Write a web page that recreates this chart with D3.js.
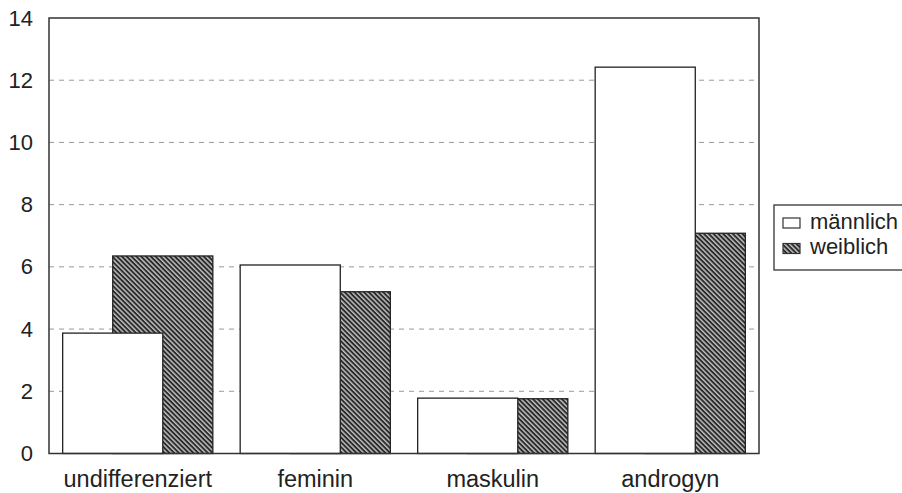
<!DOCTYPE html>
<html>
<head>
<meta charset="utf-8">
<script src="https://cdn.jsdelivr.net/npm/d3@7"></script>
<style>
  body { margin: 0; background: #fff; }
  svg { display: block; font-family: "Liberation Sans", Arial, sans-serif; }
</style>
</head>
<body>
<div id="chart"></div>
<script>
const categories = ["undifferenziert", "feminin", "maskulin", "androgyn"];
const seriesNames = ["männlich", "weiblich"];
const maennlich = [3.87, 6.06, 1.78, 12.42];
const weiblich = [6.35, 5.2, 1.76, 7.08];
const yTicks = [0, 2, 4, 6, 8, 10, 12, 14];

const width = 902, height = 493;
const margin = { top: 18, right: 143, bottom: 39.5, left: 49 };
const W = width - margin.left - margin.right;
const H = height - margin.top - margin.bottom;
const FONT = '"Liberation Sans", Arial, sans-serif';

const svg = d3.select('#chart').append('svg')
  .attr('width', width).attr('height', height);

// hatch pattern for "weiblich" (lines running top-left to bottom-right)
const defs = svg.append('defs');
const pat = defs.append('pattern')
  .attr('id', 'hatch').attr('patternUnits', 'userSpaceOnUse')
  .attr('width', 3.4).attr('height', 3.4)
  .attr('patternTransform', 'rotate(45)');
pat.append('rect').attr('width', 3.4).attr('height', 3.4).attr('fill', '#bdbdbd');
pat.append('rect').attr('width', 3.4).attr('height', 1.9).attr('fill', '#2a2a2a');

const g = svg.append('g').attr('transform', `translate(${margin.left},${margin.top})`);

const x0 = d3.scaleBand().domain(categories).range([0, W]).padding(0);
const barW = x0.bandwidth() * 0.564;
const groupW = barW * 1.5;
const offset = d3.scaleOrdinal().domain(seriesNames).range([0, barW / 2]);
const y = d3.scaleLinear().domain([0, 14]).range([H, 0]);

// dashed gridlines
g.selectAll('line.grid')
  .data(yTicks.filter(t => t > 0 && t < 14))
  .join('line').attr('class', 'grid')
  .attr('x1', 0).attr('x2', W)
  .attr('y1', d => y(d)).attr('y2', d => y(d))
  .attr('stroke', '#999').attr('stroke-width', 1)
  .attr('stroke-dasharray', '5,5');

// y axis labels
const yAxis = g.append('g')
  .call(d3.axisLeft(y).tickValues(yTicks).tickSize(0).tickPadding(16));
yAxis.select('.domain').remove();
yAxis.selectAll('text').attr('font-size', '22px').attr('fill', '#222')
  .attr('font-family', FONT);

// x axis labels
const xAxis = g.append('g').attr('transform', `translate(0,${H})`)
  .call(d3.axisBottom(x0).tickSize(0).tickPadding(16.5));
xAxis.select('.domain').remove();
xAxis.selectAll('text').attr('font-size', '23.5px').attr('fill', '#222')
  .attr('font-family', FONT);

const groups = g.selectAll('g.cat')
  .data(categories)
  .join('g').attr('class', 'cat')
  .attr('transform', d => `translate(${x0(d) + (x0.bandwidth() - groupW) / 2},0)`);

// weiblich behind, männlich on top (overlapping bars)
groups.append('rect')
  .attr('x', offset('weiblich'))
  .attr('y', (d, i) => y(weiblich[i]))
  .attr('width', barW)
  .attr('height', (d, i) => H - y(weiblich[i]))
  .attr('fill', 'url(#hatch)')
  .attr('stroke', '#222').attr('stroke-width', 1.3);

groups.append('rect')
  .attr('x', offset('männlich'))
  .attr('y', (d, i) => y(maennlich[i]))
  .attr('width', barW)
  .attr('height', (d, i) => H - y(maennlich[i]))
  .attr('fill', '#fff')
  .attr('stroke', '#222').attr('stroke-width', 1.3);

// plot frame
g.append('rect').attr('x', 0).attr('y', 0).attr('width', W).attr('height', H)
  .attr('fill', 'none').attr('stroke', '#333').attr('stroke-width', 1.5);

// legend
const leg = svg.append('g').attr('transform', 'translate(774,205)');
leg.append('rect').attr('x', 0).attr('y', 0).attr('width', 140).attr('height', 65)
  .attr('fill', '#fff').attr('stroke', '#333').attr('stroke-width', 1.3);
seriesNames.forEach((s, i) => {
  const row = leg.append('g').attr('transform', `translate(9,${13 + i * 25.5})`);
  row.append('rect').attr('width', 17).attr('height', 10)
    .attr('fill', i === 0 ? '#fff' : 'url(#hatch)')
    .attr('stroke', '#333').attr('stroke-width', 1.2);
  row.append('text').attr('x', 27).attr('y', 10.5)
    .attr('font-size', '22px').attr('fill', '#222').text(s);
});
</script>
</body>
</html>
